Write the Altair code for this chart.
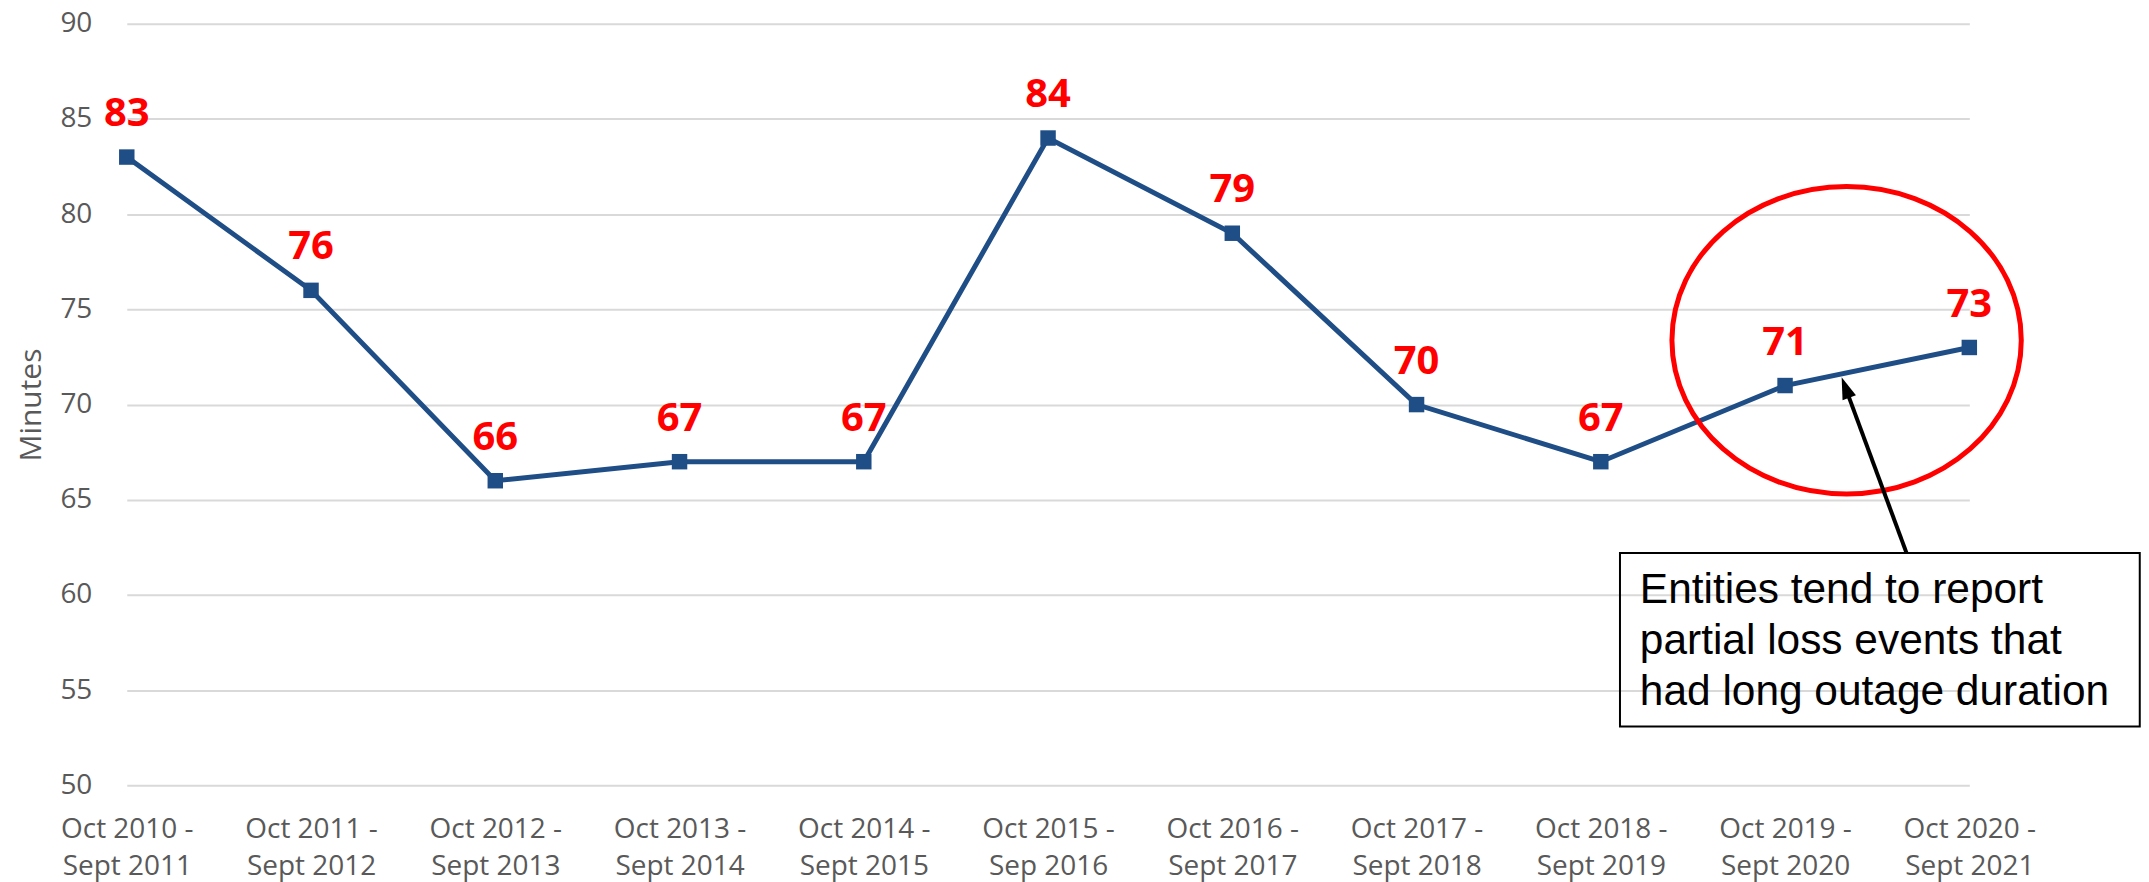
import json
import altair as alt
import pandas as pd

# ---- data ----
categories = [
    "Oct 2010 - Sept 2011", "Oct 2011 - Sept 2012", "Oct 2012 - Sept 2013",
    "Oct 2013 - Sept 2014", "Oct 2014 - Sept 2015", "Oct 2015 - Sep 2016",
    "Oct 2016 - Sept 2017", "Oct 2017 - Sept 2018", "Oct 2018 - Sept 2019",
    "Oct 2019 - Sept 2020", "Oct 2020 - Sept 2021",
]
minutes = [83, 76, 66, 67, 67, 84, 79, 70, 67, 71, 73]
y_ticks = [50, 55, 60, 65, 70, 75, 80, 85, 90]

# annotation anchors in data units (x = period index, y = minutes)
ellipse_center = [9.334, 73.38]
arrow_base = [9.659, 62.21]
arrow_shaft_end = [9.329, 70.85]
arrow_tip = [9.307, 71.44]
box_x = [8.104, 10.925]
box_y = [53.09, 62.21]
note_pos = [8.212, 59.59]
note_text = "Entities tend to report\npartial loss events that\nhad long outage duration"

# ---- build tables ----
df = pd.DataFrame({"idx": list(range(len(categories))), "period": categories, "minutes": minutes})
label_lines = [[c.split(" - ")[0] + " -", c.split(" - ")[1]] for c in categories]
label_expr = json.dumps(label_lines) + "[datum.value]"

AX_FONT = "Open Sans"
GRAY = "#595959"
LINE = "#1F4E87"

x_enc = alt.X(
    "idx:Q",
    scale=alt.Scale(domain=[0, len(categories) - 1], nice=False, zero=False),
    axis=alt.Axis(
        values=list(range(len(categories))), labelExpr=label_expr, title=None,
        grid=False, domain=False, ticks=False, tickSize=0,
        labelFont=AX_FONT, labelFontSize=28, labelColor=GRAY,
        labelBaseline="alphabetic", labelPadding=52, labelLineHeight=37,
        labelOverlap=False, labelFlush=False,
    ),
)
y_enc = alt.Y(
    "minutes:Q",
    scale=alt.Scale(domain=[50, 90], nice=False, zero=False),
    axis=alt.Axis(
        values=y_ticks, title="Minutes", grid=True, gridColor="#D9D9D9", gridWidth=2,
        domain=False, ticks=False, tickSize=0,
        labelFont=AX_FONT, labelFontSize=28, labelColor=GRAY, labelPadding=35,
        titleFont=AX_FONT, titleFontSize=30, titleColor=GRAY, titleFontWeight="normal",
        titleAngle=270, titleBaseline="alphabetic", titleAlign="center",
        titleX=-86, titleY=381.5,
    ),
)

base = alt.Chart(df)
line = base.mark_line(color=LINE, strokeWidth=5).encode(x=x_enc, y=y_enc)
pts = base.mark_point(shape="square", filled=True, color=LINE, size=240, opacity=1).encode(
    x="idx:Q", y="minutes:Q")
labels = base.mark_text(
    font=AX_FONT, fontSize=40, fontWeight="bold", color="#FF0000",
    baseline="alphabetic", dy=-31,
).encode(x="idx:Q", y="minutes:Q", text="minutes:Q")

ann = pd.DataFrame({
    "ex": [ellipse_center[0]], "ey": [ellipse_center[1]],
    "bx": [arrow_base[0]], "by": [arrow_base[1]],
    "sx": [arrow_shaft_end[0]], "sy": [arrow_shaft_end[1]],
    "tx": [arrow_tip[0]], "ty": [arrow_tip[1]],
    "rx1": [box_x[0]], "rx2": [box_x[1]], "ry1": [box_y[0]], "ry2": [box_y[1]],
    "nx": [note_pos[0]], "ny": [note_pos[1]], "note": [note_text],
})
abase = alt.Chart(ann)
ellipse = abase.mark_point(
    shape="M -1 0 A 1 0.88 0 1 0 1 0 A 1 0.88 0 1 0 -1 0 Z",
    size=122500, filled=False, stroke="#FF0000", strokeWidth=5, opacity=1,
).encode(x="ex:Q", y="ey:Q")
shaft = abase.mark_rule(color="black", strokeWidth=4).encode(
    x="bx:Q", y="by:Q", x2="sx:Q", y2="sy:Q")
head = abase.mark_point(
    shape="M 0 0 L 0.65 2 L -0.65 2 Z", size=484, filled=True, color="black",
    opacity=1, angle=339.7,
).encode(x="tx:Q", y="ty:Q")
box = abase.mark_rect(fill="white", fillOpacity=0, stroke="black", strokeWidth=2).encode(
    x="rx1:Q", x2="rx2:Q", y="ry1:Q", y2="ry2:Q")
note = abase.mark_text(
    font="Liberation Sans", fontSize=42.5, color="black", align="left",
    baseline="alphabetic", lineBreak="\n", lineHeight=51,
).encode(x="nx:Q", y="ny:Q", text="note:N")

chart = alt.layer(line, pts, labels, ellipse, shaft, head, box, note).properties(
    width=1846, height=763,
    autosize=alt.AutoSizeParams(type="none"),
    padding={"left": 119, "top": 15, "right": 172, "bottom": 96},
    background="white",
).configure_view(stroke=None)

chart.save("out.html", embed_options={"renderer": "svg", "actions": False})
